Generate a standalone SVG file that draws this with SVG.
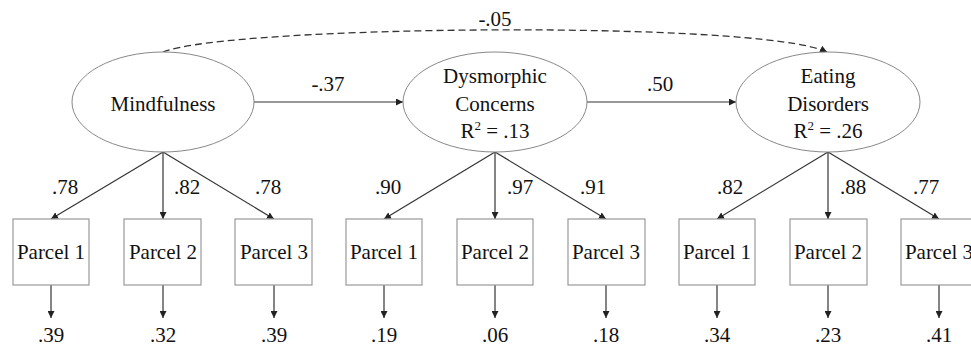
<svg xmlns="http://www.w3.org/2000/svg" width="971" height="347" viewBox="0 0 971 347" font-family="'Liberation Serif', 'Times New Roman', 'DejaVu Serif', serif">
<defs>
<marker id="ah" viewBox="0 0 10 10" refX="10" refY="5" markerWidth="7" markerHeight="7" markerUnits="userSpaceOnUse" orient="auto">
<path d="M0,0 L10,5 L0,10 z" fill="#222"/>
</marker>
</defs>
<style>
text{font-family:'Liberation Serif','Times New Roman','DejaVu Serif',serif;font-size:21px;fill:#111;text-anchor:middle}
.lat{fill:#fff;stroke:#888;stroke-width:1}
.box{fill:#fff;stroke:#999;stroke-width:1.2}
.c{stroke:#333;stroke-width:1.2;fill:none;marker-end:url(#ah)}
.d{stroke:#333;stroke-width:1.3;fill:none;stroke-dasharray:7,4;marker-end:url(#ah)}
.sup{font-size:13px}
</style>
<rect width="971" height="347" fill="#fff"/>
<g id="connectors">
<path class="d" d="M163,52 C230,25 760,20 827,52"/>
<line class="c" x1="254" y1="102" x2="403" y2="102"/>
<line class="c" x1="587" y1="102" x2="736" y2="102"/>
<line class="c" x1="163" y1="152" x2="51" y2="219"/>
<line class="c" x1="163" y1="152" x2="163" y2="219"/>
<line class="c" x1="163" y1="152" x2="274" y2="219"/>
<line class="c" x1="495" y1="152" x2="384" y2="219"/>
<line class="c" x1="495" y1="152" x2="495" y2="219"/>
<line class="c" x1="495" y1="152" x2="606" y2="219"/>
<line class="c" x1="828" y1="152" x2="717" y2="219"/>
<line class="c" x1="828" y1="152" x2="828" y2="219"/>
<line class="c" x1="828" y1="152" x2="939" y2="219"/>
<line class="c" x1="51" y1="285" x2="51" y2="318"/>
<line class="c" x1="163" y1="285" x2="163" y2="318"/>
<line class="c" x1="274" y1="285" x2="274" y2="318"/>
<line class="c" x1="384" y1="285" x2="384" y2="318"/>
<line class="c" x1="495" y1="285" x2="495" y2="318"/>
<line class="c" x1="606" y1="285" x2="606" y2="318"/>
<line class="c" x1="717" y1="285" x2="717" y2="318"/>
<line class="c" x1="828" y1="285" x2="828" y2="318"/>
<line class="c" x1="939" y1="285" x2="939" y2="318"/>
</g>
<g id="labels">
<text x="495" y="26">-.05</text>
<text x="328" y="91">-.37</text>
<text x="660" y="91">.50</text>
<text x="65" y="194">.78</text>
<text x="187" y="194">.82</text>
<text x="268" y="194">.78</text>
<text x="388" y="194">.90</text>
<text x="520" y="194">.97</text>
<text x="593" y="194">.91</text>
<text x="730" y="194">.82</text>
<text x="853" y="194">.88</text>
<text x="926" y="194">.77</text>
<text x="51" y="342">.39</text>
<text x="163" y="342">.32</text>
<text x="274" y="342">.39</text>
<text x="384" y="342">.19</text>
<text x="495" y="342">.06</text>
<text x="606" y="342">.18</text>
<text x="717" y="342">.34</text>
<text x="828" y="342">.23</text>
<text x="939" y="342">.41</text>
</g>
<g id="mindfulness">
<ellipse class="lat" cx="163" cy="102" rx="91" ry="50"/>
<text x="163" y="111">Mindfulness</text>
</g>
<g id="dysmorphic">
<ellipse class="lat" cx="495" cy="102" rx="92" ry="50"/>
<text x="495" y="83">Dysmorphic</text>
<text x="495" y="111">Concerns</text>
<text x="495" y="138">R<tspan class="sup" dy="-8">2</tspan><tspan dy="8"> = .13</tspan></text>
</g>
<g id="eating">
<ellipse class="lat" cx="828" cy="102" rx="92" ry="50"/>
<text x="828" y="83">Eating</text>
<text x="828" y="111">Disorders</text>
<text x="828" y="138">R<tspan class="sup" dy="-8">2</tspan><tspan dy="8"> = .26</tspan></text>
</g>
<g id="m_p1"><rect class="box" x="13" y="219" width="76" height="66"/><text x="51" y="259">Parcel 1</text></g>
<g id="m_p2"><rect class="box" x="124" y="219" width="77" height="66"/><text x="163" y="259">Parcel 2</text></g>
<g id="m_p3"><rect class="box" x="235" y="219" width="77" height="66"/><text x="274" y="259">Parcel 3</text></g>
<g id="d_p1"><rect class="box" x="346" y="219" width="76" height="66"/><text x="384" y="259">Parcel 1</text></g>
<g id="d_p2"><rect class="box" x="457" y="219" width="76" height="66"/><text x="495" y="259">Parcel 2</text></g>
<g id="d_p3"><rect class="box" x="568" y="219" width="77" height="66"/><text x="606" y="259">Parcel 3</text></g>
<g id="e_p1"><rect class="box" x="679" y="219" width="76" height="66"/><text x="717" y="259">Parcel 1</text></g>
<g id="e_p2"><rect class="box" x="790" y="219" width="77" height="66"/><text x="828" y="259">Parcel 2</text></g>
<g id="e_p3"><rect class="box" x="901" y="219" width="77" height="66"/><text x="939" y="259">Parcel 3</text></g>
</svg>
